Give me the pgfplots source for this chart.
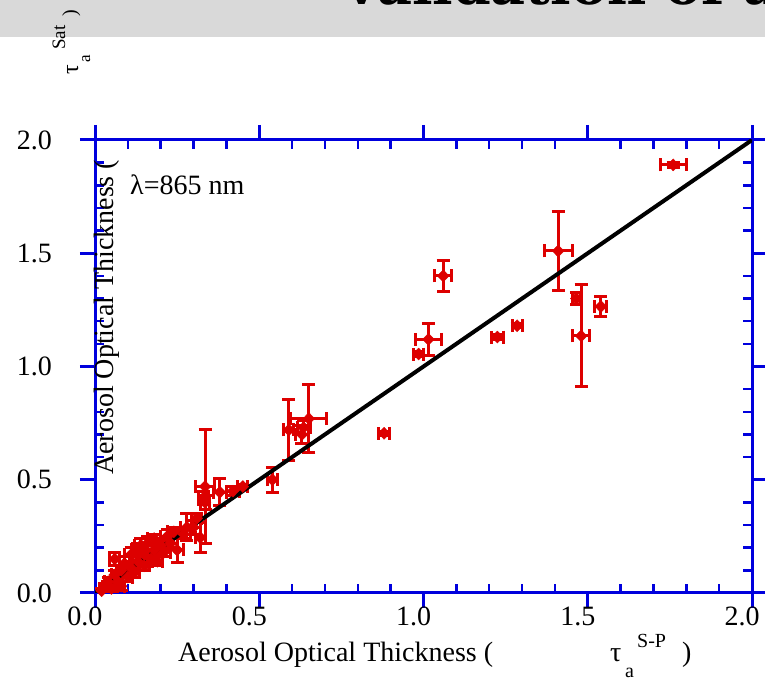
\documentclass[border=0pt]{standalone}
\usepackage{fontspec}
\setmainfont{Liberation Serif}
\newfontfamily\bannerfont{DejaVu Serif}
\usepackage{pgfplots}
\pgfplotsset{compat=1.18}
\usepackage{pgfplotstable}
\definecolor{axblue}{RGB}{0,0,221}
\definecolor{ptred}{RGB}{221,0,0}
\definecolor{bannergray}{RGB}{217,217,217}

\pgfplotstableread{
x y ex ey
0.02 0.01 0.005 0.01
0.03 0.03 0.008 0.01
0.04 0.05 0.01 0.02
0.05 0.02 0.01 0.01
0.06 0.08 0.01 0.02
0.06 0.15 0.015 0.03
0.07 0.05 0.01 0.02
0.08 0.10 0.015 0.02
0.08 0.03 0.01 0.02
0.09 0.13 0.015 0.03
0.10 0.07 0.015 0.02
0.11 0.17 0.02 0.03
0.11 0.11 0.015 0.02
0.12 0.09 0.015 0.02
0.13 0.19 0.02 0.03
0.13 0.14 0.015 0.02
0.14 0.21 0.02 0.03
0.15 0.12 0.015 0.02
0.15 0.17 0.02 0.02
0.16 0.22 0.02 0.03
0.17 0.15 0.015 0.02
0.18 0.19 0.02 0.02
0.18 0.24 0.02 0.02
0.19 0.14 0.015 0.02
0.20 0.21 0.02 0.02
0.21 0.18 0.02 0.02
0.22 0.25 0.02 0.03
0.23 0.22 0.02 0.02
0.24 0.27 0.02 0.02
0.25 0.19 0.02 0.055
0.27 0.26 0.02 0.02
0.28 0.29 0.02 0.06
0.30 0.29 0.02 0.03
0.31 0.33 0.015 0.02
0.32 0.245 0.015 0.065
0.335 0.47 0.03 0.25
0.33 0.42 0.015 0.03
0.335 0.40 0.015 0.03
0.38 0.445 0.02 0.06
0.42 0.45 0.02 0.02
0.45 0.47 0.015 0.01
0.54 0.50 0.015 0.055
0.59 0.72 0.015 0.135
0.63 0.70 0.02 0.04
0.635 0.73 0.02 0.03
0.651 0.77 0.055 0.15
0.88 0.705 0.018 0.01
0.985 1.055 0.015 0.01
1.015 1.12 0.04 0.07
1.06 1.40 0.026 0.068
1.225 1.13 0.018 0.01
1.285 1.18 0.015 0.01
1.41 1.51 0.043 0.175
1.465 1.30 0.012 0.025
1.48 1.135 0.025 0.225
1.54 1.265 0.018 0.046
1.76 1.89 0.04 0.01
}\datatable

\newcommand\lab{\fontsize{28}{32}\selectfont}
\newcommand\sub{\fontsize{20}{24}\selectfont}

\begin{document}
\begin{tikzpicture}
\useasboundingbox (0pt,0pt) rectangle (765pt,682pt);
\fill[bannergray] (0pt,645pt) rectangle (765pt,682pt);
\begin{scope}
\clip (0pt,645pt) rectangle (765pt,682pt);
\node[anchor=base west, inner sep=0pt, font=\bannerfont\bfseries\fontsize{54}{60}\selectfont] at (340pt,677pt) {Validation of a};
\end{scope}
% outward major ticks
\begin{axis}[
  at={(95pt,89pt)}, anchor=south west, scale only axis,
  width=657pt, height=453pt,
  xmin=0, xmax=2, ymin=0, ymax=2,
  xtick={0,0.5,1,1.5,2}, ytick={0,0.5,1,1.5,2},
  xticklabels={}, yticklabels={},
  minor tick num=0,
  tick align=outside, major tick length=15pt,
  axis line style={axblue, line width=3pt},
  major tick style={axblue, line width=3pt},
]
\end{axis}
\begin{axis}[
  at={(95pt,89pt)}, anchor=south west, scale only axis,
  width=657pt, height=453pt,
  xmin=0, xmax=2, ymin=0, ymax=2,
  xtick={0,0.5,1,1.5,2}, ytick={0,0.5,1,1.5,2},
  xticklabels={0.0,0.5,1.0,1.5,2.0},
  yticklabels={0.0,0.5,1.0,1.5,2.0},
  minor tick num=4,
  tick align=inside, minor tick length=9pt, major tick length=0pt,
  minor tick style={axblue, line width=2.5pt},
  major tick style={draw=none},
  axis line style={axblue, line width=3pt},
  ticklabel style={font=\lab, text=black},
  xticklabel style={anchor=north, inner sep=0pt, yshift=-14pt, xshift=-10pt},
  yticklabel style={anchor=east, inner sep=0pt, xshift=-43pt},
]
\addplot[only marks, mark=diamond*, mark size=6pt, color=ptred,
  mark options={xscale=1.3},
  error bars/.cd, x dir=both, x explicit, y dir=both, y explicit,
  error bar style={line width=3pt, ptred},
  error mark options={ptred, line width=3pt, mark size=6.5pt, rotate=90}]
  table[x=x, y=y, x error=ex, y error=ey] {\datatable};
\addplot[black, line width=4pt] coordinates {(0,0) (2,2)};
\end{axis}
% x label
\node[anchor=base west, inner sep=0pt, font=\lab] at (178pt,20pt) {Aerosol Optical Thickness (};
\node[anchor=base west, inner sep=0pt, font=\lab] at (610pt,20pt) {τ};
\node[anchor=base west, inner sep=0pt, font=\sub] at (625pt,4pt) {a};
\node[anchor=base west, inner sep=0pt, font=\sub] at (637pt,34pt) {S-P};
\node[anchor=base west, inner sep=0pt, font=\lab] at (682pt,20pt) {)};
% y label
\node[rotate=90, anchor=base west, inner sep=0pt, font=\lab] at (113pt,207pt) {Aerosol Optical Thickness (};
\node[rotate=90, anchor=base west, inner sep=0pt, font=\fontsize{24}{28}\selectfont] at (78pt,607pt) {τ};
\node[rotate=90, anchor=base west, inner sep=0pt, font=\fontsize{17}{20}\selectfont] at (90pt,619pt) {a};
\node[rotate=90, anchor=base west, inner sep=0pt, font=\fontsize{19}{22}\selectfont] at (65pt,632pt) {Sat};
\node[rotate=90, anchor=base west, inner sep=0pt, font=\fontsize{20}{24}\selectfont] at (76pt,665pt) {)};
% lambda
\node[anchor=base west, inner sep=0pt, font=\lab] at (130pt,487pt) {λ=865 nm};
\end{tikzpicture}
\end{document}
